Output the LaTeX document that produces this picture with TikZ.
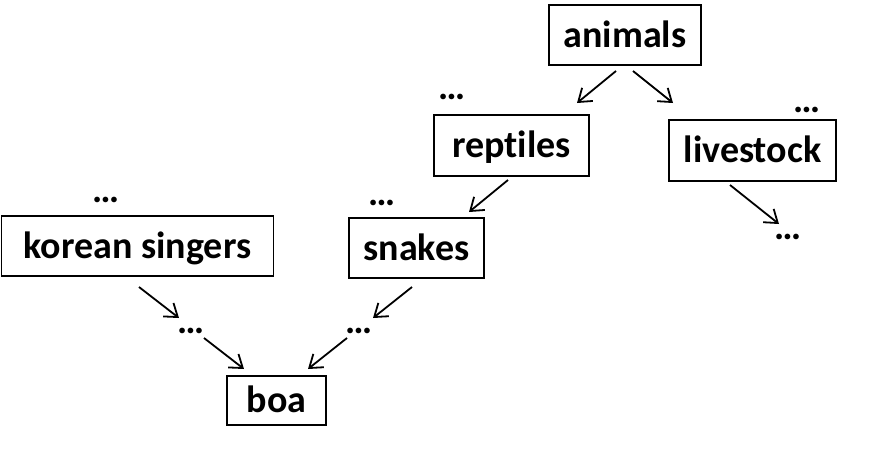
\documentclass[tikz,border=0pt]{standalone}
\usepackage{fontspec}
\setmainfont{Carlito}[Ligatures=CommonOff]
\usetikzlibrary{arrows.meta}
\tikzset{
  box/.style={draw, line width=1.6pt, inner sep=0pt, text height=28pt, text depth=4pt,
    font=\fontsize{38}{40}\selectfont\bfseries},
  dots/.style={inner sep=0pt, font=\fontsize{38}{40}\selectfont\bfseries},
  arr/.style={line width=1.8pt, -{Straight Barb[length=12pt,width=17pt,line width=1.8pt]}}
}
\begin{document}
\begin{tikzpicture}[x=1pt,y=-1pt]
\useasboundingbox (0,0) rectangle (871,451);
% boxes
\node[box, minimum width=152pt, minimum height=60pt] (animals) at (625,35) {animals};
\node[box, minimum width=155pt, minimum height=61pt] (reptiles) at (511.5,145.5) {reptiles};
\node[box, minimum width=167pt, minimum height=61pt] (livestock) at (752.5,150.5) {livestock};
\node[box, minimum width=272pt, minimum height=60pt] (korean) at (137.5,246) {korean singers};
\node[box, minimum width=135pt, minimum height=60pt] (snakes) at (416.5,248) {snakes};
\node[box, minimum width=99pt, minimum height=49pt] (boa) at (276.5,400.5) {boa};
% dots
\node[dots] (d1) at (452,97) {…};
\node[dots] (d2) at (807,110) {…};
\node[dots] (d3) at (788,237) {…};
\node[dots] (d4) at (106,200) {…};
\node[dots] (d5) at (382,203) {…};
\node[dots] (d6) at (191,331) {…};
\node[dots] (d7) at (359,331) {…};
% arrow endpoints
\coordinate (a1s) at (616,71);  \coordinate (a1e) at (577,103);
\coordinate (a2s) at (633,71);  \coordinate (a2e) at (673,103);
\coordinate (a3s) at (508,180); \coordinate (a3e) at (469,212);
\coordinate (a4s) at (730,185); \coordinate (a4e) at (779,224);
\coordinate (a5s) at (139,287); \coordinate (a5e) at (179,318);
\coordinate (a6s) at (204,338); \coordinate (a6e) at (244,369);
\coordinate (a7s) at (412,287); \coordinate (a7e) at (373,318);
\coordinate (a8s) at (347,338); \coordinate (a8e) at (308,369);
\draw[arr] (a1s) -- (a1e);
\draw[arr] (a2s) -- (a2e);
\draw[arr] (a3s) -- (a3e);
\draw[arr] (a4s) -- (a4e);
\draw[arr] (a5s) -- (a5e);
\draw[arr] (a6s) -- (a6e);
\draw[arr] (a7s) -- (a7e);
\draw[arr] (a8s) -- (a8e);
\end{tikzpicture}
\end{document}
